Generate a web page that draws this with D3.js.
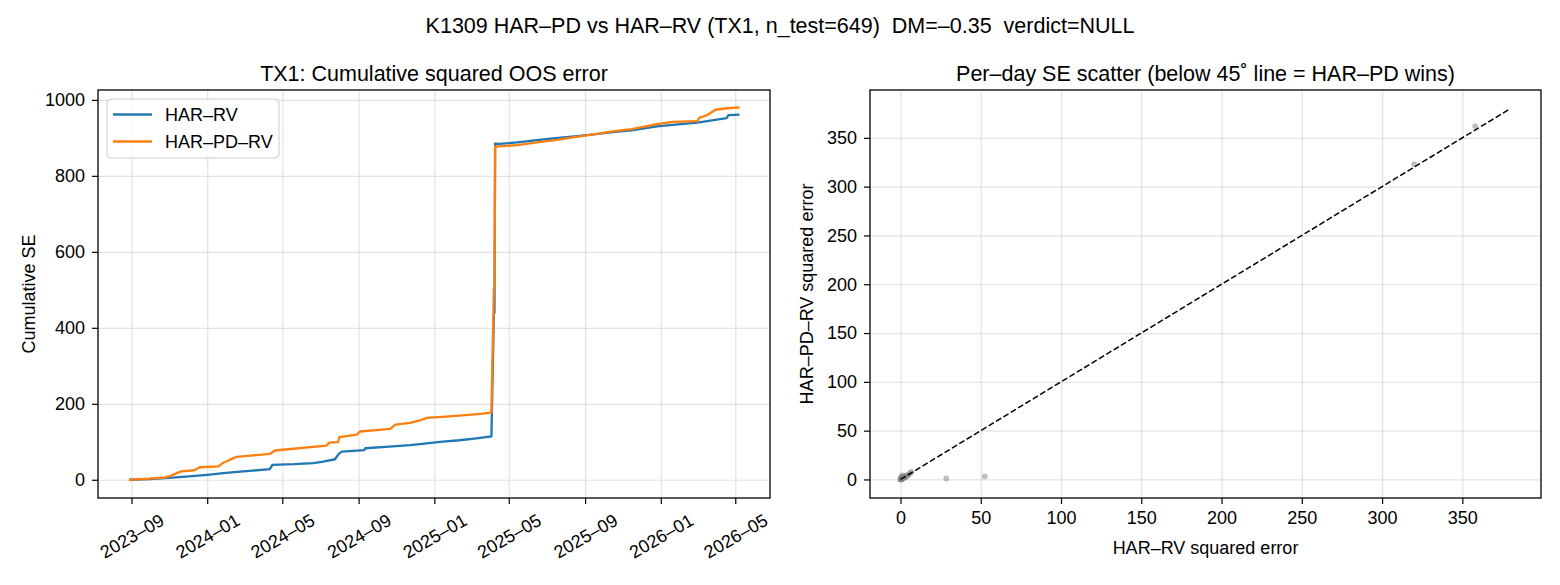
<!DOCTYPE html>
<html>
<head>
<meta charset="utf-8">
<script src="https://cdn.jsdelivr.net/npm/d3@7"></script>
<style>
	body { margin: 0; background: #fff; }
	svg { font-family: "Liberation Sans", Arial, sans-serif; }
	.tick line { stroke: #000; stroke-width: 1.2; }
	.tick text { fill: #000; font-size: 18px; }
	.grid .tick line { stroke: #b0b0b0; stroke-opacity: 0.35; stroke-width: 1.2; }
</style>
</head>
<body>
<div id="chart"></div>
<script>
// cumulative squared error (date, value)
var harRvDates = ["2023-08-28","2023-10-01","2023-11-01","2023-12-03","2024-01-01","2024-01-27","2024-02-28",
	"2024-04-11","2024-04-15","2024-05-20","2024-06-20","2024-07-06","2024-07-25","2024-07-31","2024-08-05",
	"2024-09-10","2024-09-12","2024-10-20","2024-11-23","2024-12-20","2025-01-10","2025-02-10","2025-03-10",
	"2025-04-03","2025-04-07","2025-04-08","2025-04-09","2025-04-15","2025-05-15","2025-06-15","2025-07-15",
	"2025-08-15","2025-09-15","2025-10-15","2025-11-15","2025-12-26","2026-02-02","2026-03-01","2026-04-17",
	"2026-04-20","2026-05-08"];
var harRvCum = [0, 2, 5, 9, 13, 17.5, 22,
	28, 39, 41, 44, 48, 54, 68, 74,
	78, 83, 87, 91, 96, 100, 104, 109,
	114, 437, 440, 885, 884, 888, 894, 899,
	904, 909, 915, 920, 930, 936, 940, 952,
	960, 961];

var harPdDates = ["2023-08-28","2023-10-01","2023-10-25","2023-11-01","2023-11-14","2023-11-20","2023-12-11",
	"2023-12-20","2024-01-19","2024-01-26","2024-02-01","2024-02-12","2024-02-17","2024-04-11","2024-04-19",
	"2024-07-11","2024-07-16","2024-07-30","2024-08-01","2024-08-29","2024-09-03","2024-10-22","2024-10-30",
	"2024-11-23","2024-12-10","2024-12-20","2025-01-20","2025-02-20","2025-03-20","2025-04-03","2025-04-07",
	"2025-04-08","2025-04-09","2025-05-15","2025-06-15","2025-07-15","2025-08-15","2025-09-15","2025-10-15",
	"2025-11-15","2025-12-26","2026-01-20","2026-03-01","2026-03-04","2026-03-17","2026-03-30","2026-04-18",
	"2026-05-08"];
var harPdCum = [0, 3, 6, 9, 18, 22, 25,
	33, 35, 44, 48, 57, 60, 68, 77,
	90, 98, 99, 112, 119, 127, 134, 145,
	150, 157, 163, 166, 170, 174, 177, 505,
	507, 877, 881, 888, 894, 902, 909, 917,
	923, 936, 942, 944, 953, 960, 974, 978,
	980];

// per-day squared errors (HAR-RV on x, HAR-PD-RV on y)
var seHarRv = [0.05, 0.1, 0.2, 0.3, 0.4, 0.5, 0.6, 0.8, 1.0, 1.2, 1.5, 1.8, 2.0, 2.4, 2.8, 3.2,
	0.3, 0.7, 1.1, 3.8, 4.5, 5.2, 6.0, 6.8, 28.5, 52.5, 320, 358];
var seHarPd = [0.05, 0.2, 0.1, 0.5, 0.3, 0.9, 0.4, 1.3, 0.7, 1.8, 1.0, 2.6, 1.6, 3.1, 2.2, 3.8,
	1.9, 2.9, 4.2, 3.0, 4.0, 5.5, 6.3, 7.8, 1.0, 3.2, 323, 362];

var diagEnds = [0, 380];
var leftYTicks = [0, 200, 400, 600, 800, 1000];
var leftXTicks = ["2023-09","2024-01","2024-05","2024-09","2025-01","2025-05","2025-09","2026-01","2026-05"];
var rightTicks = [0, 50, 100, 150, 200, 250, 300, 350];

var W = 1560, H = 585;
var top_ = 90, bottom = 498;
var left1 = 98, right1 = 770, left2 = 870, right2 = 1541;
var dash = "\u2013";

var parse = d3.timeParse("%Y-%m-%d"),
	parseMonth = d3.timeParse("%Y-%m");

var svg = d3.select("#chart").append("svg")
	.attr("width", W)
	.attr("height", H);

svg.append("rect").attr("width", W).attr("height", H).attr("fill", "#fff");

// ---- left: cumulative SE
var xL = d3.scaleTime()
	.domain([parse("2023-07-09"), parse("2026-06-26")])
	.range([left1, right1]);
var yL = d3.scaleLinear()
	.domain([-48, 1026])
	.range([bottom, top_]);

var xTickDates = leftXTicks.map(function(s) { return parseMonth(s); });

svg.append("g").attr("class", "grid")
	.attr("transform", "translate(0," + bottom + ")")
	.call(d3.axisBottom(xL).tickValues(xTickDates).tickSize(-(bottom - top_)).tickFormat(""))
	.call(function(g) { g.select(".domain").remove(); });
svg.append("g").attr("class", "grid")
	.attr("transform", "translate(" + left1 + ",0)")
	.call(d3.axisLeft(yL).tickValues(leftYTicks).tickSize(-(right1 - left1)).tickFormat(""))
	.call(function(g) { g.select(".domain").remove(); });

var rvSeries = harRvDates.map(function(d, i) { return {date: parse(d), v: harRvCum[i]}; });
var pdSeries = harPdDates.map(function(d, i) { return {date: parse(d), v: harPdCum[i]}; });

var line = d3.line()
	.x(function(d) { return xL(d.date); })
	.y(function(d) { return yL(d.v); });

svg.append("path").datum(rvSeries)
	.attr("d", line).attr("fill", "none")
	.attr("stroke", "#1f77b4").attr("stroke-width", 2.3).attr("stroke-linejoin", "round");
svg.append("path").datum(pdSeries)
	.attr("d", line).attr("fill", "none")
	.attr("stroke", "#ff7f0e").attr("stroke-width", 2.3).attr("stroke-linejoin", "round");

var xAxisL = svg.append("g")
	.attr("transform", "translate(0," + bottom + ")")
	.call(d3.axisBottom(xL).tickValues(xTickDates).tickSize(6).tickPadding(7)
		.tickFormat(function(d) { return d3.timeFormat("%Y")(d) + dash + d3.timeFormat("%m")(d); }));
xAxisL.select(".domain").remove();
xAxisL.selectAll(".tick text")
	.attr("y", 0).attr("dy", "0.35em")
	.attr("transform", "translate(0,38) rotate(-30)")
	.style("text-anchor", "middle");

var yAxisL = svg.append("g")
	.attr("transform", "translate(" + left1 + ",0)")
	.call(d3.axisLeft(yL).tickValues(leftYTicks).tickSize(6).tickPadding(7).tickFormat(d3.format("d")));
yAxisL.select(".domain").remove();

svg.append("rect")
	.attr("x", left1).attr("y", top_)
	.attr("width", right1 - left1).attr("height", bottom - top_)
	.attr("fill", "none").attr("stroke", "#000").attr("stroke-width", 1.3);

// legend
var lg = svg.append("g");
lg.append("rect")
	.attr("x", 107).attr("y", 99).attr("width", 172).attr("height", 59).attr("rx", 4)
	.attr("fill", "#fff").attr("fill-opacity", 0.8)
	.attr("stroke", "#cccccc").attr("stroke-width", 1);
[["HAR" + dash + "RV", "#1f77b4", 114.5], ["HAR" + dash + "PD" + dash + "RV", "#ff7f0e", 141.5]].forEach(function(item) {
	lg.append("line")
		.attr("x1", 113).attr("x2", 152).attr("y1", item[2]).attr("y2", item[2])
		.attr("stroke", item[1]).attr("stroke-width", 2.3);
	lg.append("text")
		.attr("x", 165).attr("y", item[2]).attr("dy", "0.35em")
		.style("font-size", "18px")
		.text(item[0]);
});

svg.append("text")
	.attr("x", (left1 + right1) / 2).attr("y", 81)
	.attr("text-anchor", "middle").style("font-size", "21.5px")
	.text("TX1: Cumulative squared OOS error");

svg.append("text")
	.attr("transform", "translate(29," + ((top_ + bottom) / 2) + ") rotate(-90)")
	.attr("text-anchor", "middle").attr("dy", "0.35em").style("font-size", "18px")
	.text("Cumulative SE");

// ---- right: per-day scatter
var xR = d3.scaleLinear().domain([-19, 399]).range([left2, right2]);
var yR = d3.scaleLinear().domain([-19, 399]).range([bottom, top_]);

svg.append("g").attr("class", "grid")
	.attr("transform", "translate(0," + bottom + ")")
	.call(d3.axisBottom(xR).tickValues(rightTicks).tickSize(-(bottom - top_)).tickFormat(""))
	.call(function(g) { g.select(".domain").remove(); });
svg.append("g").attr("class", "grid")
	.attr("transform", "translate(" + left2 + ",0)")
	.call(d3.axisLeft(yR).tickValues(rightTicks).tickSize(-(right2 - left2)).tickFormat(""))
	.call(function(g) { g.select(".domain").remove(); });

svg.append("g").selectAll("circle")
	.data(seHarRv.map(function(x, i) { return {x: x, y: seHarPd[i]}; }))
	.enter().append("circle")
	.attr("cx", function(d) { return xR(d.x); })
	.attr("cy", function(d) { return yR(d.y); })
	.attr("r", 2.9)
	.attr("fill", "#808080")
	.attr("fill-opacity", 0.5);

svg.append("line")
	.attr("x1", xR(diagEnds[0])).attr("y1", yR(diagEnds[0]))
	.attr("x2", xR(diagEnds[1])).attr("y2", yR(diagEnds[1]))
	.attr("stroke", "#000").attr("stroke-width", 1.5)
	.attr("stroke-dasharray", "6,2.6");

var xAxisR = svg.append("g")
	.attr("transform", "translate(0," + bottom + ")")
	.call(d3.axisBottom(xR).tickValues(rightTicks).tickSize(6).tickPadding(7));
xAxisR.select(".domain").remove();

var yAxisR = svg.append("g")
	.attr("transform", "translate(" + left2 + ",0)")
	.call(d3.axisLeft(yR).tickValues(rightTicks).tickSize(6).tickPadding(7));
yAxisR.select(".domain").remove();

svg.append("rect")
	.attr("x", left2).attr("y", top_)
	.attr("width", right2 - left2).attr("height", bottom - top_)
	.attr("fill", "none").attr("stroke", "#000").attr("stroke-width", 1.3);

svg.append("text")
	.attr("x", (left2 + right2) / 2).attr("y", 81)
	.attr("text-anchor", "middle").style("font-size", "21.5px")
	.text("Per" + dash + "day SE scatter (below 45\u02DA line = HAR" + dash + "PD wins)");

svg.append("text")
	.attr("x", (left2 + right2) / 2).attr("y", 554)
	.attr("text-anchor", "middle").style("font-size", "18px")
	.text("HAR" + dash + "RV squared error");

svg.append("text")
	.attr("transform", "translate(807," + ((top_ + bottom) / 2) + ") rotate(-90)")
	.attr("text-anchor", "middle").attr("dy", "0.35em").style("font-size", "18px")
	.text("HAR" + dash + "PD" + dash + "RV squared error");

// suptitle
svg.append("text")
	.attr("x", W / 2).attr("y", 33)
	.attr("text-anchor", "middle").style("font-size", "21.5px")
	.style("white-space", "pre")
	.text("K1309 HAR" + dash + "PD vs HAR" + dash + "RV (TX1, n_test=649)  DM=" + dash + "0.35  verdict=NULL");
</script>
</body>
</html>
